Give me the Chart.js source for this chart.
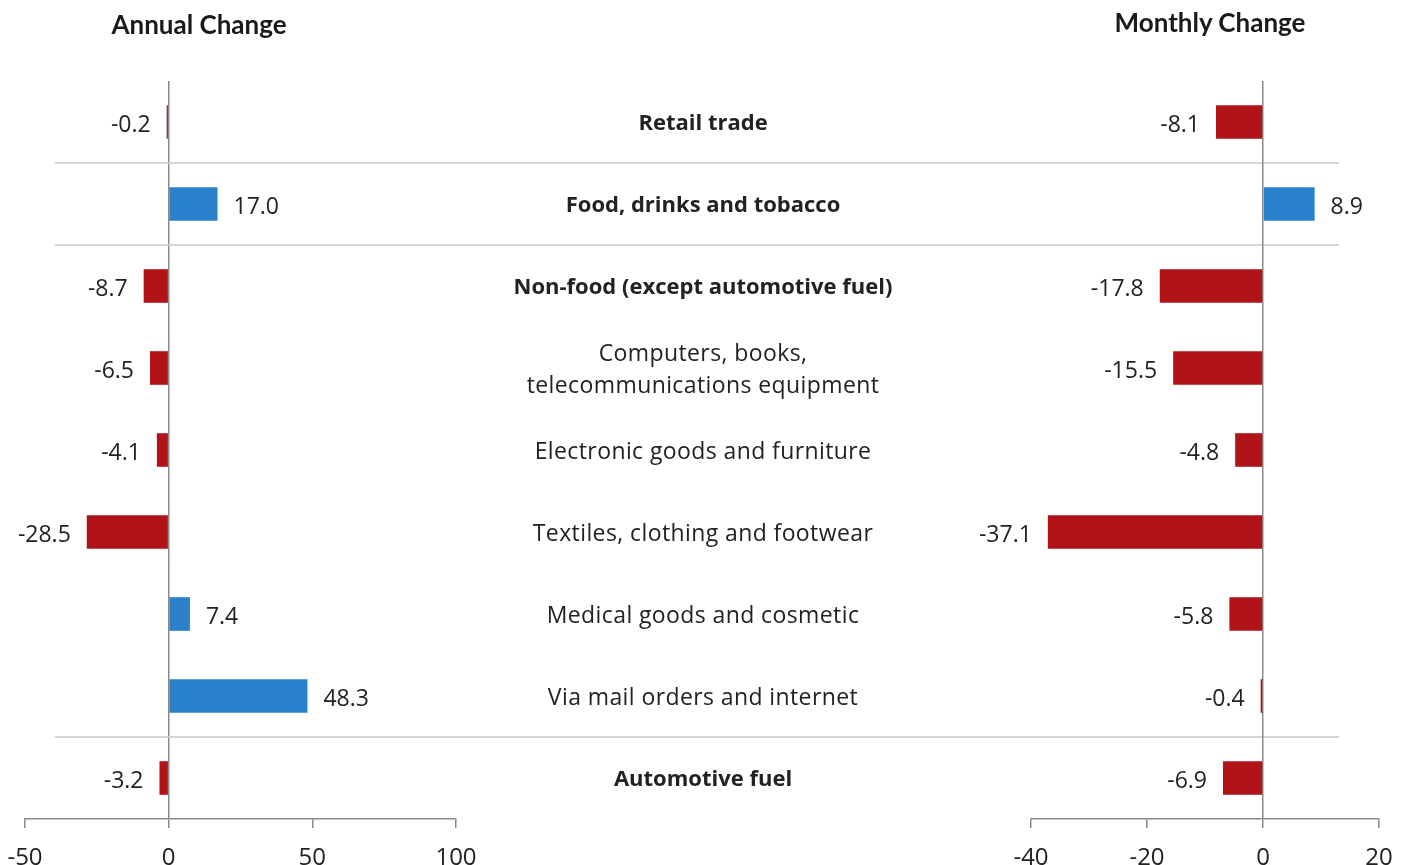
<!DOCTYPE html>
<html>
<head>
<meta charset="utf-8">
<script src="https://cdn.jsdelivr.net/npm/chart.js@4/dist/chart.umd.min.js"></script>
<style>
  body { margin: 0; background: #fff; }
  #wrap { position: relative; width: 1407px; height: 865px; overflow: hidden; }
  #wrap canvas { position: absolute; left: 0; top: 0; }
  .title { position: absolute; font-family: Lato, sans-serif; font-weight: bold; font-size: 26px; color: #1a1a1a; transform: translateX(-50%); white-space: nowrap; }
</style>
</head>
<body>
<div id="wrap">
  <canvas id="annual" width="1407" height="865"></canvas>
  <canvas id="monthly" width="1407" height="865"></canvas>
  <div class="title" style="left:199px; top:8px">Annual Change</div>
  <div class="title" style="left:1210px; top:6px">Monthly Change</div>
</div>
<script>
const categories = [
  'Retail trade',
  'Food, drinks and tobacco',
  'Non-food (except automotive fuel)',
  ['Computers, books,', 'telecommunications equipment'],
  'Electronic goods and furniture',
  'Textiles, clothing and footwear',
  'Medical goods and cosmetic',
  'Via mail orders and internet',
  'Automotive fuel'
]
const isGroup = [true, true, true, false, false, false, false, false, true]
const annualChange = [-0.2, 17.0, -8.7, -6.5, -4.1, -28.5, 7.4, 48.3, -3.2]
const monthlyChange = [-8.1, 8.9, -17.8, -15.5, -4.8, -37.1, -5.8, -0.4, -6.9]
// separators drawn after these rows
const separatorsAfter = [0, 1, 7]

const RED = '#b11418'
const BLUE = '#2b80cc'
const AXIS = '#8a8a8a'
const FONT = "'Open Sans', sans-serif"

// value labels next to each bar
const valueLabels = {
  id: 'valueLabels',
  afterDatasetsDraw(chart) {
    const ctx = chart.ctx
    const meta = chart.getDatasetMeta(0)
    const data = chart.data.datasets[0].data
    ctx.save()
    ctx.font = '23px ' + FONT
    ctx.fillStyle = '#222'
    ctx.textBaseline = 'middle'
    meta.data.forEach((bar, i) => {
      const v = data[i]
      const y = bar.y + 3
      if (v < 0) {
        ctx.textAlign = 'right'
        ctx.fillText(v.toFixed(1), Math.min(bar.x, bar.base) - 16, y)
      } else {
        ctx.textAlign = 'left'
        ctx.fillText(v.toFixed(1), Math.max(bar.x, bar.base) + 16, y)
      }
    })
    ctx.restore()
  }
}

// category names in the middle and the group separator lines
const middleColumn = {
  id: 'middleColumn',
  beforeDatasetsDraw(chart) {
    const ctx = chart.ctx
    const y = chart.scales.y
    ctx.save()
    ctx.strokeStyle = '#c8c8c8'
    ctx.lineWidth = 1.5
    separatorsAfter.forEach(i => {
      const py = (y.getPixelForValue(i) + y.getPixelForValue(i + 1)) / 2
      ctx.beginPath()
      ctx.moveTo(55, py)
      ctx.lineTo(1339, py)
      ctx.stroke()
    })
    ctx.fillStyle = '#222'
    ctx.textAlign = 'center'
    ctx.textBaseline = 'middle'
    categories.forEach((c, i) => {
      if (isGroup[i]) {
        ctx.font = 'bold 22px ' + FONT
        ctx.letterSpacing = '0px'
      } else {
        ctx.font = '23px ' + FONT
        ctx.letterSpacing = '0.4px'
      }
      const lines = Array.isArray(c) ? c : [c]
      const cy = y.getPixelForValue(i) + 2
      lines.forEach((t, k) => {
        ctx.fillText(t, 703, cy + (k - (lines.length - 1) / 2) * 32)
      })
    })
    ctx.restore()
  }
}

function makeChart(id, values, min, max, step, padding, plugins) {
  return new Chart(document.getElementById(id), {
    type: 'bar',
    data: {
      labels: categories.map(c => Array.isArray(c) ? c.join(' ') : c),
      datasets: [{
        data: values,
        backgroundColor: values.map(v => v < 0 ? RED : BLUE),
        borderWidth: 0,
        minBarLength: 2,
        categoryPercentage: 1,
        barPercentage: 0.41
      }]
    },
    options: {
      indexAxis: 'y',
      responsive: false,
      animation: false,
      layout: { padding: padding },
      plugins: { legend: { display: false }, tooltip: { enabled: false } },
      scales: {
        y: { display: false },
        x: {
          min: min,
          max: max,
          // keep the plot edges fixed; end labels may hang over
          afterFit: s => { s.height = 46; s.paddingLeft = 0; s.paddingRight = 0 },
          border: { display: true, color: AXIS, width: 1.5 },
          grid: {
            drawOnChartArea: true,
            color: c => c.tick && c.tick.value === 0 ? AXIS : 'rgba(0,0,0,0)',
            lineWidth: 1.5,
            tickColor: AXIS,
            tickLength: 9
          },
          ticks: {
            stepSize: step,
            padding: 16,
            color: '#222',
            font: { family: FONT, size: 24 }
          }
        }
      }
    },
    plugins: plugins
  })
}

makeChart('annual', annualChange, -50, 100, 50, { top: 81, left: 25, right: 951, bottom: 0 }, [middleColumn, valueLabels])
makeChart('monthly', monthlyChange, -40, 20, 20, { top: 81, left: 1031, right: 28, bottom: 0 }, [valueLabels])
</script>
</body>
</html>
